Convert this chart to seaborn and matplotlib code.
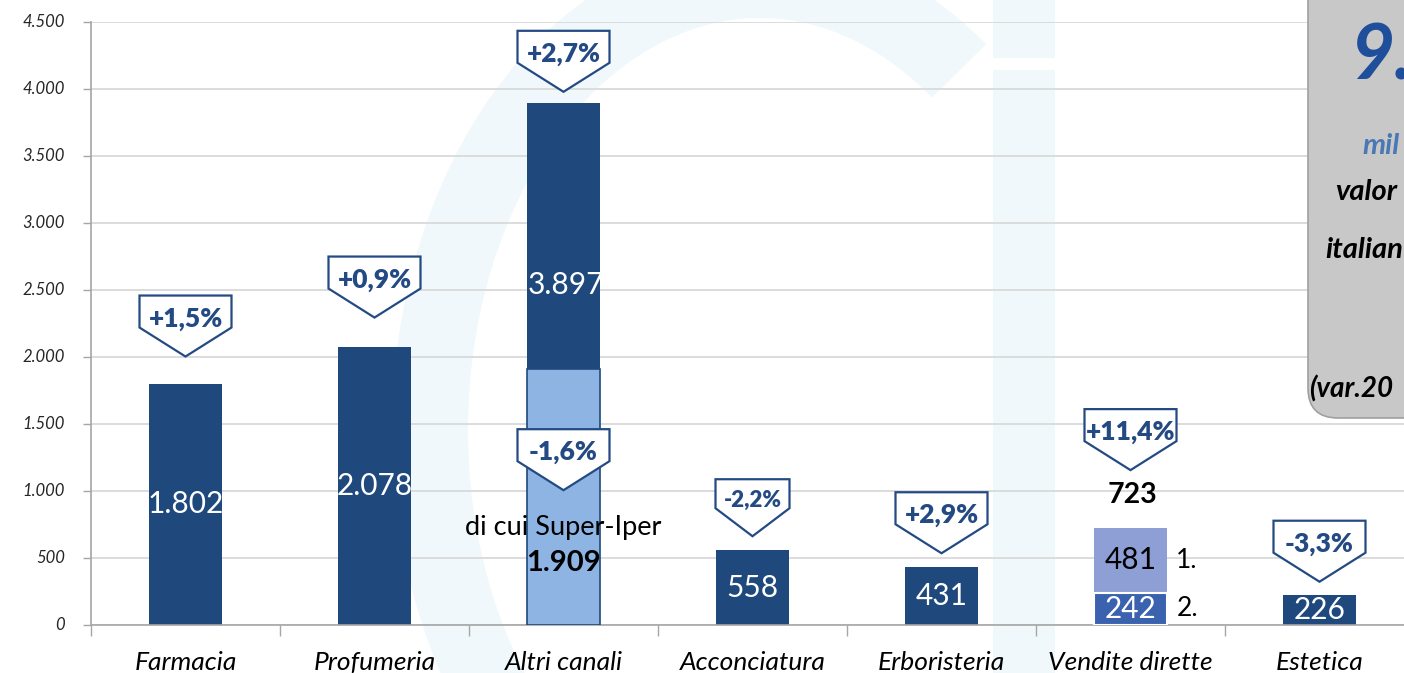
import matplotlib
matplotlib.use("Agg")
import matplotlib.pyplot as plt
import matplotlib.transforms as mtransforms
from matplotlib.patches import Polygon, FancyBboxPatch, Rectangle, Arc
import pandas as pd
import seaborn as sns

# ---------------- data ----------------
categories = ["Farmacia", "Profumeria", "Altri canali", "Acconciatura",
              "Erboristeria", "Vendite dirette", "Estetica"]
totals = [1802, 2078, 3897, 558, 431, 723, 226]
total_labels = ["1.802", "2.078", "3.897", "558", "431", "723", "226"]
variations = ["+1,5%", "+0,9%", "+2,7%", "-2,2%", "+2,9%", "+11,4%", "-3,3%"]
super_iper_value = 1909
super_iper_label = "1.909"
super_iper_variation = "-1,6%"
super_iper_text = "di cui Super-Iper"
vendite_values = [481, 242]
vendite_labels = ["481", "242"]
vendite_names = ["1.", "2."]
y_ticks = [0, 500, 1000, 1500, 2000, 2500, 3000, 3500, 4000, 4500]
y_tick_labels = ["0", "500", "1.000", "1.500", "2.000", "2.500",
                 "3.000", "3.500", "4.000", "4.500"]
box_lines = ["9.", "mil", "valor", "italian", "(var.20"]

# ---------------- style ----------------
DARK = "#1f497d"
LIGHT = "#8db4e2"
VD_TOP = "#8e9fd5"
VD_BOT = "#3a62ae"
CALL = "#244a84"
WM = "#f0f8fc"

W, H = 1404, 673
sns.set_style("white")
plt.rcParams["font.family"] = ["Lato", "DejaVu Sans"]

fig = plt.figure(figsize=(W / 100, H / 100), dpi=100)
fig.patch.set_facecolor("white")
inch = fig.dpi_scale_trans

# watermark (background decoration)
arc = Arc((7.60, (H - 430) / 100), 6.6, 9.0, theta1=61, theta2=303,
          transform=inch, color=WM, lw=54.7, zorder=-2)
fig.add_artist(arc)
fig.add_artist(Rectangle((9.93, 0), 0.62, (H - 70) / 100, transform=inch,
                         fc=WM, ec="none", zorder=-2))
fig.add_artist(Rectangle((9.93, (H - 58) / 100), 0.62, 0.6, transform=inch,
                         fc=WM, ec="none", zorder=-2))

ax = fig.add_axes([91 / W, 48 / H, 1323 / W, 603 / H])
ax.set_facecolor("none")

# main bars
df = pd.DataFrame({"canale": categories, "valore": totals})
pal = {c: DARK for c in categories}
pal["Vendite dirette"] = VD_TOP
sns.barplot(data=df, x="canale", y="valore", hue="canale", palette=pal,
            order=categories, hue_order=categories, width=0.39, saturation=1,
            legend=False, ax=ax, linewidth=0, zorder=2)
n0 = len(ax.patches)

# sub-segments
df2 = pd.DataFrame({"canale": ["Altri canali", "Vendite dirette"],
                    "valore": [super_iper_value, vendite_values[1]]})
sns.barplot(data=df2, x="canale", y="valore", hue="canale",
            palette={"Altri canali": LIGHT, "Vendite dirette": VD_BOT},
            order=categories, hue_order=["Altri canali", "Vendite dirette"],
            width=0.39, saturation=1, legend=False, ax=ax, zorder=3)
for p in ax.patches[n0:]:
    xc = p.get_x() + p.get_width() / 2
    if abs(xc - 2) < 0.3:
        p.set_edgecolor(DARK)
        p.set_linewidth(1.2)
    else:
        p.set_edgecolor("white")
        p.set_linewidth(1.5)

# axes styling
ax.set_xlim(-0.5, 6.5)
ax.set_ylim(0, 4500)
ax.set_xlabel("")
ax.set_ylabel("")
ax.set_yticks(y_ticks)
ax.tick_params(axis="y", left=True, length=6, width=1, color="#a6a6a6",
               direction="out", labelleft=False)
# y tick labels as explicit italic texts aligned to the tick positions
ytrans = mtransforms.blended_transform_factory(ax.transAxes, ax.transData)
for yv, lab in zip(y_ticks, y_tick_labels):
    ax.annotate(lab, xy=(0, yv), xycoords=ytrans, xytext=(-26, 0),
                textcoords="offset pixels", ha="right", va="center",
                fontsize=12, fontstyle="italic", color="#262626",
                annotation_clip=False)

ax.set_xticks(range(len(categories)))
ax.set_xticklabels(categories, fontdict={"style": "italic", "size": 19,
                                         "color": "black"})
ax.tick_params(axis="x", which="major", length=0, pad=19)
ax.set_xticks([i - 0.5 for i in range(len(categories) + 1)], minor=True)
ax.tick_params(axis="x", which="minor", bottom=True, length=8, width=1,
               color="#a6a6a6", direction="out")
ax.yaxis.grid(True, color="#d9d9d9", lw=1.3)
ax.xaxis.grid(False)
ax.set_axisbelow(True)
for s in ["top", "right"]:
    ax.spines[s].set_visible(False)
for s in ["left", "bottom"]:
    ax.spines[s].set_color("#a6a6a6")
    ax.spines[s].set_linewidth(1.2)


# callouts
def callout(x, y, gap, text, w=92, rh=32, th=29, fs=19, toff=38):
    trans = inch + mtransforms.ScaledTranslation(x, y, ax.transData)
    pts = [(0, gap), (-w / 2, gap + th), (-w / 2, gap + th + rh),
           (w / 2, gap + th + rh), (w / 2, gap + th)]
    pts = [(px / 100, py / 100) for px, py in pts]
    poly = Polygon(pts, closed=True, transform=trans, fc="white", ec=CALL,
                   lw=1.6, zorder=5, clip_on=False)
    ax.add_artist(poly)
    ax.annotate(text, xy=(x, y), xytext=(0, gap + toff),
                textcoords="offset pixels", ha="center", va="center",
                fontweight="heavy", color=CALL, fontsize=fs, zorder=6)


callout_gaps = [27, 29, 11, 14, 14, 58, 13]
for i, (v, t) in enumerate(zip(totals, variations)):
    if categories[i] == "Acconciatura":
        callout(i, v, callout_gaps[i], t, w=74, rh=29, th=28, fs=16, toff=36)
    else:
        callout(i, v, callout_gaps[i], t)
callout(2, super_iper_value, -121, super_iper_variation)

# value labels
for i, (v, lab) in enumerate(zip(totals, total_labels)):
    if categories[i] in ("Altri canali", "Vendite dirette"):
        continue
    ax.text(i, v / 2, lab, ha="center", va="center", color="white",
            fontsize=21.5, zorder=6)
ax.annotate(total_labels[2], xy=(2, (super_iper_value + totals[2]) / 2),
            xytext=(2, -49), textcoords="offset pixels", ha="center",
            va="center", color="white", fontsize=21.5, zorder=6)
ax.annotate(super_iper_text, xy=(2, 0), xytext=(0, 98),
            textcoords="offset pixels", ha="center", va="center",
            color="black", fontsize=19.5, zorder=6)
ax.annotate(super_iper_label, xy=(2, 0), xytext=(0, 62),
            textcoords="offset pixels", ha="center", va="center",
            color="black", fontsize=21, fontweight="bold", zorder=6)

vd = categories.index("Vendite dirette")
ax.annotate(total_labels[vd], xy=(vd, totals[vd]), xytext=(2, 33),
            textcoords="offset pixels", ha="center", va="center",
            color="black", fontsize=20.5, fontweight="bold", zorder=6)
seg_mid = [vendite_values[1] + vendite_values[0] / 2, vendite_values[1] / 2]
for lab, name, ym, col in zip(vendite_labels, vendite_names, seg_mid,
                              ["black", "white"]):
    ax.text(vd, ym, lab, ha="center", va="center", color=col, fontsize=21.5,
            zorder=6)
    ax.annotate(name, xy=(vd + 0.195, ym), xytext=(9, 0),
                textcoords="offset pixels", ha="left", va="center",
                color="black", fontsize=19, zorder=6)

# grey summary box (cut by the right edge)
box = FancyBboxPatch((13.08, (H - 418) / 100), 1.6, 4.8,
                     boxstyle="round,pad=0,rounding_size=0.3", transform=inch,
                     fc="#c8c8c8", ec="#a0a0a0", lw=1.2, zorder=5)
fig.add_artist(box)
box_specs = [
    (13.50, 57, 55, "#1f4e9a"),
    (13.62, 146, 21, "#4a78b4"),
    (13.35, 192, 21, "black"),
    (13.25, 250, 21, "black"),
    (13.09, 389, 20, "black"),
]
for txt, (bx, by, fs, col) in zip(box_lines, box_specs):
    fig.text(bx, (H - by) / 100, txt, transform=inch, ha="left", va="center",
             fontsize=fs, fontweight="bold", style="italic", color=col,
             zorder=6)

fig.savefig("out.png", dpi=100)
